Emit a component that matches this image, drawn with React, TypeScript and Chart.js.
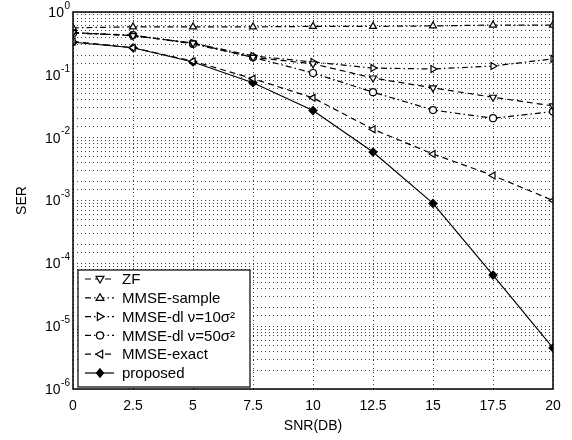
import React, { useEffect, useRef } from "react";
import { Chart, registerables } from "chart.js";

Chart.register(...registerables);

const snr = [0, 2.5, 5, 7.5, 10, 12.5, 15, 17.5, 20];
const zf = [0.47, 0.42, 0.32, 0.19, 0.15, 0.089, 0.062, 0.044, 0.032];
const mmseSample = [0.56, 0.58, 0.58, 0.58, 0.59, 0.59, 0.6, 0.62, 0.62];
const mmseDl10 = [0.47, 0.42, 0.32, 0.2, 0.16, 0.128, 0.124, 0.138, 0.18];
const mmseDl50 = [0.46, 0.43, 0.31, 0.19, 0.107, 0.053, 0.0275, 0.0204, 0.026];
const mmseExact = [0.34, 0.27, 0.165, 0.087, 0.043, 0.0136, 0.0055, 0.0025, 0.001];
const proposed = [0.33, 0.27, 0.16, 0.075, 0.027, 0.0059, 0.0009, 0.000065, 0.0000045];

const yDecades = [0, -1, -2, -3, -4, -5, -6];
const legendLabels = [
  "ZF",
  "MMSE-sample",
  "MMSE-dl \u03bd=10\u03c3\u00b2",
  "MMSE-dl \u03bd=50\u03c3\u00b2",
  "MMSE-exact",
  "proposed",
];

const FONT = "'Liberation Sans', Arial, Helvetica, sans-serif";
const DASH = [6, 4];
const DASHDOT = [6, 3, 1.5, 3];

type Spec = { label: string; data: number[]; dash: number[]; style: string; rot: number; fill: string };

const specs: Spec[] = [
  { label: legendLabels[0], data: zf, dash: DASH, style: "triangle", rot: 180, fill: "#fff" },
  { label: legendLabels[1], data: mmseSample, dash: DASHDOT, style: "triangle", rot: 0, fill: "#fff" },
  { label: legendLabels[2], data: mmseDl10, dash: DASHDOT, style: "triangle", rot: 90, fill: "#fff" },
  { label: legendLabels[3], data: mmseDl50, dash: DASHDOT, style: "circle", rot: 0, fill: "#fff" },
  { label: legendLabels[4], data: mmseExact, dash: DASH, style: "triangle", rot: 270, fill: "#fff" },
  { label: legendLabels[5], data: proposed, dash: [], style: "rectRot", rot: 0, fill: "#000" },
];

function drawMarker(ctx: CanvasRenderingContext2D, style: string, rot: number, x: number, y: number, r: number, fill: string) {
  ctx.save();
  ctx.translate(x, y);
  ctx.rotate((rot * Math.PI) / 180);
  ctx.beginPath();
  if (style === "triangle") {
    const h = r * 1.5;
    ctx.moveTo(0, -r * 1.15);
    ctx.lineTo(h * 0.75, r * 0.75);
    ctx.lineTo(-h * 0.75, r * 0.75);
    ctx.closePath();
  } else if (style === "circle") {
    ctx.arc(0, 0, r, 0, Math.PI * 2);
  } else {
    ctx.moveTo(0, -r * 1.2);
    ctx.lineTo(r * 1.0, 0);
    ctx.lineTo(0, r * 1.2);
    ctx.lineTo(-r * 1.0, 0);
    ctx.closePath();
  }
  ctx.fillStyle = fill;
  ctx.fill();
  ctx.setLineDash([]);
  ctx.lineWidth = 1.2;
  ctx.strokeStyle = "#000";
  ctx.stroke();
  ctx.restore();
}

const customPlugin = {
  id: "matlabLook",
  afterDatasetsDraw(chart: any) {
    const ctx: CanvasRenderingContext2D = chart.ctx;
    const area = chart.chartArea;
    // legend box
    const lx = 78, ly = 270, lw = 172, lh = 117;
    ctx.save();
    ctx.fillStyle = "#fff";
    ctx.fillRect(lx, ly, lw, lh);
    ctx.strokeStyle = "#000";
    ctx.lineWidth = 1.2;
    ctx.setLineDash([]);
    ctx.strokeRect(lx, ly, lw, lh);
    ctx.font = `15px ${FONT}`;
    ctx.textBaseline = "middle";
    ctx.textAlign = "left";
    specs.forEach((s, i) => {
      const y = 279 + i * 18.8;
      ctx.beginPath();
      ctx.setLineDash(s.dash);
      ctx.lineWidth = 1.2;
      ctx.strokeStyle = "#000";
      ctx.moveTo(85, y);
      ctx.lineTo(114, y);
      ctx.stroke();
      drawMarker(ctx, s.style, s.rot, 100, y, 3.5, s.fill);
      ctx.fillStyle = "#000";
      ctx.fillText(s.label, 122, y + 1);
    });
    ctx.restore();

    // axes box
    ctx.save();
    ctx.strokeStyle = "#000";
    ctx.lineWidth = 1.5;
    ctx.setLineDash([]);
    ctx.strokeRect(area.left, area.top, area.right - area.left, area.bottom - area.top);
    ctx.restore();

    // y tick labels with superscript exponents
    const yScale = chart.scales.y;
    ctx.save();
    ctx.fillStyle = "#000";
    ctx.textBaseline = "middle";
    ctx.textAlign = "right";
    yDecades.forEach((e) => {
      const py = yScale.getPixelForValue(Math.pow(10, e));
      const exp = e === 0 ? "0" : "-" + String(-e);
      ctx.font = `10px ${FONT}`;
      const right = area.left - 3;
      ctx.fillText(exp, right, py - 6);
      const w = ctx.measureText(exp).width;
      ctx.font = `14px ${FONT}`;
      ctx.fillText("10", right - w - 0.5, py + 1);
    });
    ctx.restore();
  },
};

export default function App() {
  const ref = useRef<HTMLCanvasElement | null>(null);
  useEffect(() => {
    if (!ref.current) return;
    const chart = new Chart(ref.current, {
      type: "line",
      data: {
        datasets: specs.map((s) => ({
          label: s.label,
          data: snr.map((x, i) => ({ x, y: s.data[i] })),
          borderColor: "#000",
          borderWidth: 1.2,
          borderDash: s.dash,
          pointStyle: s.style as any,
          pointRotation: s.rot,
          pointRadius: s.style === "circle" ? 3.5 : 4,
          pointBackgroundColor: s.fill,
          pointBorderColor: "#000",
          pointBorderWidth: 1.2,
          fill: false,
          tension: 0,
        })),
      },
      options: {
        responsive: false,
        animation: false,
        devicePixelRatio: 1,
        layout: { padding: { top: 12, right: 19, left: 0, bottom: 0 } },
        plugins: { legend: { display: false }, tooltip: { enabled: false } },
        scales: {
          x: {
            type: "linear",
            min: 0,
            max: 20,
            afterFit: (s: any) => {
              s.height = 51;
            },
            ticks: {
              stepSize: 2.5,
              color: "#000",
              padding: 9,
              font: { family: FONT, size: 14 },
              maxRotation: 0,
              autoSkip: false,
            },
            grid: {
              color: "rgba(0,0,0,0.75)",
              lineWidth: 1,
              tickLength: 0,
            },
            border: { display: false, dash: [1, 3] },
            title: {
              display: true,
              text: "SNR(DB)",
              color: "#000",
              font: { family: FONT, size: 14 },
              padding: { top: 0, bottom: 5 },
            },
          },
          y: {
            type: "logarithmic",
            min: 1e-6,
            max: 1,
            afterFit: (s: any) => {
              s.width = 73;
            },
            ticks: { display: false, autoSkip: false },
            grid: {
              color: "rgba(0,0,0,0.75)",
              lineWidth: 1,
              tickLength: 0,
            },
            border: { display: false, dash: [1, 3] },
            title: {
              display: true,
              text: "SER",
              color: "#000",
              font: { family: FONT, size: 14 },
              padding: { top: 14, bottom: 0 },
            },
          },
        },
      },
      plugins: [customPlugin],
    });
    return () => chart.destroy();
  }, []);
  return (
    <div style={{ position: "fixed", left: 0, top: 0, width: 572, height: 440, background: "#fff" }}>
      <canvas ref={ref} width={572} height={440} style={{ width: 572, height: 440 }} />
    </div>
  );
}
